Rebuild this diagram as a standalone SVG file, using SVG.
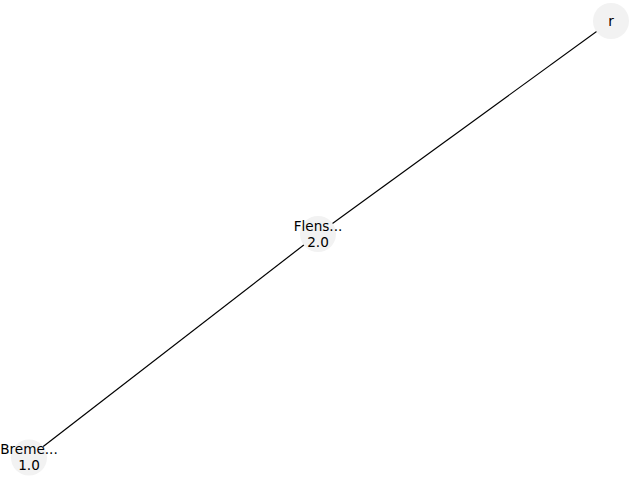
<svg xmlns="http://www.w3.org/2000/svg" width="640" height="480" viewBox="0 0 640 480">
<style>
.node circle{fill:#f2f2f2;stroke:none}
.node text{font-family:"DejaVu Sans",sans-serif;font-size:13.6px;fill:#000;text-anchor:middle}
.edge{stroke:#000;stroke-width:1.2;fill:none}
</style>
<rect width="640" height="480" fill="#fff"/>
<g id="edges">
<line class="edge" x1="29" y1="457.5" x2="318" y2="234"/>
<line class="edge" x1="318" y1="234" x2="611" y2="21"/>
</g>
<g id="node-r" class="node">
<circle cx="611" cy="21" r="18"/>
<text x="611" y="25.5">r</text>
</g>
<g id="node-flens" class="node">
<circle cx="318" cy="234" r="18"/>
<text x="318" y="230.5">Flens...</text>
<text x="318" y="247">2.0</text>
</g>
<g id="node-bremen" class="node">
<circle cx="29" cy="457.5" r="18"/>
<text x="29" y="453.5">Breme...</text>
<text x="29" y="470">1.0</text>
</g>
</svg>
